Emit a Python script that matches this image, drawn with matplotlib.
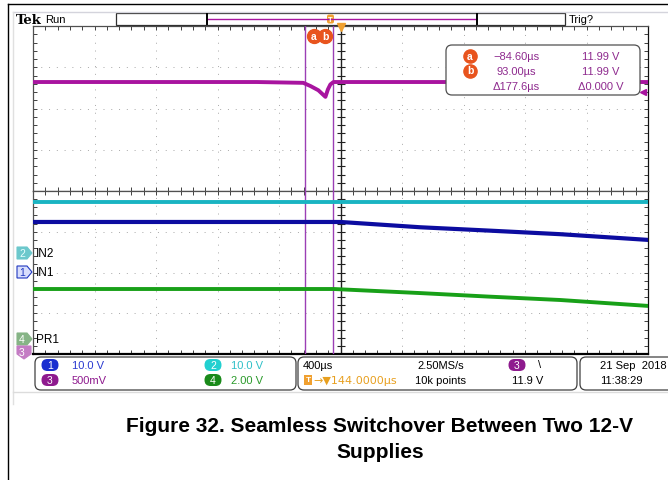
import matplotlib.pyplot as plt
import numpy as np
from matplotlib.patches import FancyBboxPatch, Rectangle, Polygon

# horizontal: 400 us/div, 10 div, centre of screen is 144 us after trigger
us_per_div = 400
t_center = 144.0
t_min, t_max = t_center - 5 * us_per_div, t_center + 5 * us_per_div

# ch3 (500 mV/div), upper pane, volts
ch3_t = [-1856, -1400, -900, -400, -98, -50, 0, 46, 62, 78, 98, 400, 900, 1400, 2144]
ch3_v = [11.99, 11.99, 11.99, 11.99, 11.98, 11.94, 11.89, 11.81, 11.90, 11.96, 11.99, 11.99, 11.99, 11.99, 11.99]

# lower pane, volts
ch2_t = [-1856, -600, 400, 1400, 2144]
ch2_v = [12.5, 12.5, 12.5, 12.5, 12.5]
ch1_t = [-1856, -600, 143, 663, 1100, 1574, 2144]
ch1_v = [12.3, 12.3, 12.3, 11.0, 10.2, 9.3, 7.9]
ch4_t = [-1856, -600, 100, 663, 1100, 1574, 2144]
ch4_v = [2.45, 2.45, 2.45, 2.25, 2.08, 1.91, 1.62]

cursor_a, cursor_b = -84.6, 93.0

# volts/div and ground position (div from bottom of lower pane)
ch1_scale, ch1_gnd = 10.0, 2.01
ch2_scale, ch2_gnd = 10.0, 2.48
ch4_scale, ch4_gnd = 2.0, 0.37

ch3_lim = (10.669, 12.669)

W, H = 668, 481
fig = plt.figure(figsize=(W / 100, H / 100), dpi=100)
plt.rcParams['font.family'] = ['Liberation Sans', 'DejaVu Sans']


def frac(x0, y0, x1, y1):
    return [x0 / W, 1 - y1 / H, (x1 - x0) / W, (y1 - y0) / H]


ax_top = fig.add_axes(frac(33, 27, 648, 192))
ax_bot = fig.add_axes(frac(33, 192, 648, 355))

MAG = '#a8149f'
CUR = '#9b3fb5'
grid_c = '#a8a8a8'

for ax, ylo, yhi, ndiv in [(ax_top, ch3_lim[0], ch3_lim[1], 4), (ax_bot, 0, 4, 4)]:
    ax.set_xlim(t_min, t_max)
    ax.set_ylim(ylo, yhi)
    ax.set_facecolor('white')
    dy = (yhi - ylo) / ndiv
    for k in range(1, 10):
        ax.axvline(t_min + k * us_per_div, color=grid_c, lw=0.7, dashes=(1, 7), zorder=1)
    for k in range(1, ndiv):
        ax.axhline(ylo + k * dy, color=grid_c, lw=0.7, dashes=(1, 7), zorder=1)
    ax.axvline(t_center, color='#202020', lw=1.0, zorder=2)
    ys = np.arange(ylo, yhi, dy / 5)
    ax.plot([t_center] * len(ys), ys, '_', color='#202020', ms=6, mew=0.8, zorder=2)
    ax.set_xticks(np.arange(t_min, t_max + 1, us_per_div / 5))
    ax.set_yticks(np.arange(ylo, yhi + 1e-9, dy / 5))
    ax.tick_params(which='both', direction='in', length=3, width=0.7, color='#404040',
                   top=True, bottom=True, left=True, right=True,
                   labelbottom=False, labelleft=False)
    for s in ax.spines.values():
        s.set_color('#505050')
        s.set_linewidth(0.9)
    ax.spines['right'].set_color('#101010')
    ax.axvline(cursor_a, color=CUR, lw=1.0, zorder=3)
    ax.axvline(cursor_b, color=CUR, lw=1.0, zorder=3)

ax_bot.spines['bottom'].set_color('#000000')
ax_bot.spines['bottom'].set_linewidth(1.6)

ax_top.plot(ch3_t, ch3_v, color=MAG, lw=2.8, zorder=4)

ax_bot.plot(ch2_t, np.array(ch2_v) / ch2_scale + ch2_gnd, color='#1ab4c2', lw=2.8, zorder=4)
ax_bot.plot(ch1_t, np.array(ch1_v) / ch1_scale + ch1_gnd, color='#0c0ca0', lw=3.0, zorder=4)
ax_bot.plot(ch4_t, np.array(ch4_v) / ch4_scale + ch4_gnd, color='#18a018', lw=2.8, zorder=4)

# overlay in pixel coordinates for the scope interface
ui = fig.add_axes([0, 0, 1, 1], facecolor='none')
ui.set_xlim(0, W)
ui.set_ylim(H, 0)
ui.axis('off')

ui.plot([8, 8], [5, H], color='black', lw=1.0)
ui.plot([8, W], [5, 5], color='black', lw=1.0)
ui.plot([13, W], [12.5, 12.5], color='#d4d4dc', lw=1.0)
ui.plot([13, 13], [12.5, 405], color='#e0e0e0', lw=1.0)
ui.plot([13, W], [393, 393], color='#dcdcdc', lw=1.0)

FS = 8
ui.text(16, 20, 'Tek', fontsize=9.5, fontweight='bold', family='DejaVu Serif', va='center')
ui.text(45, 20, 'Run', fontsize=FS, va='center')
ui.add_patch(Rectangle((116, 14), 449, 12, facecolor='white', edgecolor='#303030', lw=0.9))
ui.plot([208, 476], [20, 20], color=MAG, lw=1.0)
ui.plot([207, 207], [15, 25], color='black', lw=1.4)
ui.plot([477, 477], [15, 25], color='black', lw=1.4)
ui.add_patch(FancyBboxPatch((327, 15.5), 7, 9, boxstyle='round,pad=0,rounding_size=2',
                            facecolor='#f0a030', edgecolor='none'))
ui.text(330.5, 20.5, 'T', fontsize=5.5, color='white', ha='center', va='center', fontweight='bold')
ui.plot([341], [28], marker='v', color='#f0a030', ms=6)
ui.text(569, 20, 'Trig?', fontsize=FS, va='center')

ORG = '#e8541e'
for x, lab in [(314, 'a'), (325, 'b')]:
    ui.plot([x], [37], 'o', color=ORG, ms=10, zorder=6)
    ui.text(x, 36.5, lab, fontsize=7.5, color='white', ha='center', va='center', fontweight='bold', zorder=7)

# measurement readout
ui.add_patch(FancyBboxPatch((446, 46), 194, 50, boxstyle='round,pad=0,rounding_size=6',
                            facecolor='white', edgecolor='#505050', lw=0.9, zorder=5))
TXT = '#8e2a8e'
rows = [('a', '\u221284.60\u00b5s', '11.99 V'),
        ('b', '93.00\u00b5s', '11.99 V'),
        (None, '\u0394177.6\u00b5s', '\u03940.000 V')]
for i, (lab, tv, vv) in enumerate(rows):
    y = 57 + i * 15
    if lab:
        ui.plot([470], [y], 'o', color=ORG, ms=9.5, zorder=6)
        ui.text(470, y - 0.5, lab, fontsize=7.5, color='white', ha='center', va='center',
                fontweight='bold', zorder=7)
    ui.text(516, y, tv, fontsize=FS, color=TXT, ha='center', va='center', zorder=7)
    ui.text(601, y, vv, fontsize=FS, color=TXT, ha='center', va='center', zorder=7)

ui.plot([643], [93], marker='<', color=MAG, ms=5)


def flag(y, face, edge, num, tcol, down=False):
    if down:
        pts = [(17, y - 6), (31, y - 6), (31, y + 2), (24, y + 7), (17, y + 2)]
    else:
        pts = [(17, y - 6), (27, y - 6), (32, y), (27, y + 6), (17, y + 6)]
    ui.add_patch(Polygon(pts, closed=True, facecolor=face, edgecolor=edge, lw=0.8))
    ui.text(22, y, num, fontsize=7.5, color=tcol, ha='center', va='center')


flag(254, '#6cc8cc', '#6cc8cc', '2', '#e8ffff')
flag(273, '#d8defc', '#2038c0', '1', '#2038c0')
flag(340, '#86b486', '#86b486', '4', 'white')
flag(353, '#c47cc4', '#c47cc4', '3', 'white', down=True)
for y, lab in [(254, 'IN2'), (273, 'IN1'), (340, 'PR1')]:
    ui.text(36, y, lab, fontsize=8.5, va='center')

# bottom status bar
for x0, x1 in [(35, 296), (298, 577), (580, 680)]:
    ui.add_patch(FancyBboxPatch((x0, 358), x1 - x0, 33, boxstyle='round,pad=0,rounding_size=6',
                                facecolor='white', edgecolor='#404040', lw=0.9))


def pill(x, y, face, num):
    ui.add_patch(FancyBboxPatch((x - 8.5, y - 6), 17, 12, boxstyle='round,pad=0,rounding_size=6',
                                facecolor=face, edgecolor='none'))
    ui.text(x, y, num, fontsize=7.5, color='white', ha='center', va='center')


pill(50, 366, '#1a2ed0', '1')
ui.text(72, 366, '10.0 V', fontsize=FS, color='#2a3ad0', va='center')
pill(50, 381, '#8e1a8e', '3')
ui.text(72, 381, '500mV', fontsize=FS, color='#8e1a8e', va='center')
pill(213, 366, '#22d0d0', '2')
ui.text(231, 366, '10.0 V', fontsize=FS, color='#30c0c8', va='center')
pill(213, 381, '#1a8a1a', '4')
ui.text(231, 381, '2.00 V', fontsize=FS, color='#2a9a2a', va='center')

ui.text(303, 366, '400\u00b5s', fontsize=FS, va='center')
ui.add_patch(Rectangle((304, 376), 8, 10, facecolor='#f0a030', edgecolor='none'))
ui.text(308, 381, 'T', fontsize=6, color='white', ha='center', va='center', fontweight='bold')
ui.text(313, 381, '\u2192\u25bc144.0000\u00b5s', fontsize=FS, color='#e8a020', va='center',
        family=['DejaVu Sans'])
ui.text(417, 366, '2.50MS/s', fontsize=FS, va='center')
ui.text(415, 381, '10k points', fontsize=FS, va='center')
pill(517, 366, '#8e1a8e', '3')
ui.text(538, 365, '\\', fontsize=FS, va='center')
ui.text(512, 381, '11.9 V', fontsize=FS, va='center')
ui.text(600, 366, '21 Sep  2018', fontsize=FS, va='center')
ui.text(600, 381, '11:38:29', fontsize=FS, va='center')

ui.text(380, 427, 'Figure 32. Seamless Switchover Between Two 12-V', fontsize=15,
        fontweight='bold', ha='center', va='center')
ui.text(380, 453, 'Supplies', fontsize=15, fontweight='bold', ha='center', va='center')

fig.savefig('out.png', dpi=100)
